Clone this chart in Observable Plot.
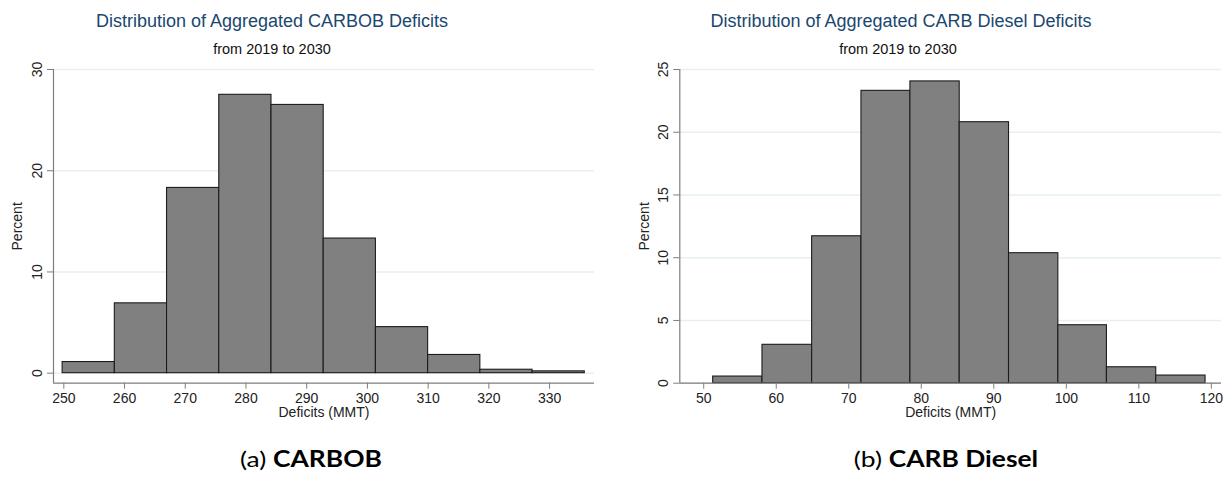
<!DOCTYPE html>
<html><head><meta charset="utf-8">
<script src="https://cdn.jsdelivr.net/npm/d3@7"></script>
<script src="https://cdn.jsdelivr.net/npm/@observablehq/plot@0.6"></script>
<style>
body{margin:0;background:#fff;}
#wrap{position:relative;width:1231px;height:477px;overflow:hidden;background:#fff;font-family:"Liberation Sans",Arial,sans-serif;}
.title{position:absolute;transform:translateX(-50%);white-space:nowrap;color:#1a476f;font-size:18px;line-height:18px;}
.sub{position:absolute;transform:translateX(-50%);white-space:nowrap;color:#111;font-size:14.5px;line-height:14.5px;}
.cap{position:absolute;transform:translateX(-50%) scaleX(1.2);white-space:nowrap;font-family:Lato,"Open Sans",sans-serif;font-size:22px;line-height:22px;color:#000;}
.chart{position:absolute;top:60px;}
</style></head><body><div id="wrap"></div>
<script>
// CARBOB histogram (panel a)
const carbobEdges = [249.8, 258.4, 267.0, 275.6, 284.2, 292.8, 301.4, 310.0, 318.6, 327.2, 335.8];
const carbobPercent = [1.1, 6.9, 18.3, 27.5, 26.5, 13.3, 4.55, 1.8, 0.34, 0.18];
const carbobXTicks = [250, 260, 270, 280, 290, 300, 310, 320, 330];
const carbobYTicks = [0, 10, 20, 30];
const carbobXDomain = [248.3, 337.4];
const carbobYDomain = [-0.99, 30];

// CARB Diesel histogram (panel b)
const dieselEdges = [51.3, 58.1, 64.95, 71.75, 78.5, 85.3, 92.1, 98.9, 105.6, 112.4, 119.2];
const dieselPercent = [0.53, 3.06, 11.71, 23.3, 24.05, 20.8, 10.36, 4.62, 1.27, 0.61];
const dieselXTicks = [50, 60, 70, 80, 90, 100, 110, 120];
const dieselYTicks = [0, 5, 10, 15, 20, 25];
const dieselXDomain = [46.7, 121.4];
const dieselYDomain = [0, 25];

const titles = ["Distribution of Aggregated CARBOB Deficits", "Distribution of Aggregated CARB Diesel Deficits"];
const subtitle = "from 2019 to 2030";
const xLabel = "Deficits (MMT)";
const yLabel = "Percent";

function hist({edges, pct, xDomain, yDomain, xTicks, yTicks, width, marginLeft, marginRight}) {
  const bins = pct.map((p, i) => ({x1: edges[i], x2: edges[i + 1], y: p}));
  return Plot.plot({
    width, height: 370, marginLeft, marginRight, marginTop: 9, marginBottom: 47.3,
    x: {domain: xDomain},
    y: {domain: yDomain},
    style: {background: "transparent", fontFamily: "'Liberation Sans', Arial, sans-serif", fontSize: "14px", color: "#222", overflow: "visible"},
    marks: [
      Plot.ruleY(yTicks, {stroke: "#e6eff2", strokeWidth: 1.5}),
      Plot.rect(bins, {x1: "x1", x2: "x2", y1: 0, y2: "y", fill: "#808080", stroke: "#1c1c1c", strokeWidth: 1.1}),
      Plot.ruleX([xDomain[0]], {stroke: "#7d7d7d", strokeWidth: 1.2}),
      Plot.ruleY([yDomain[0]], {stroke: "#7d7d7d", strokeWidth: 1.2}),
      Plot.axisX({ticks: xTicks, tickSize: 6, tickPadding: 4, fontSize: 14, label: xLabel, labelAnchor: "center", labelArrow: "none", labelOffset: 34, stroke: "#7d7d7d", fill: "#222"}),
      Plot.axisY({ticks: yTicks, tickSize: 6, tickRotate: -90, tickPadding: 6, fontSize: 14, label: yLabel, labelAnchor: "center", labelArrow: "none", labelOffset: 41, stroke: "#7d7d7d", fill: "#222"})
    ]
  });
}

const wrap = document.getElementById("wrap");
function addDiv(cls, html, left, top) {
  const d = document.createElement("div");
  d.className = cls; d.innerHTML = html;
  d.style.left = left + "px"; d.style.top = top + "px";
  wrap.appendChild(d);
  return d;
}

const left = hist({edges: carbobEdges, pct: carbobPercent, xDomain: carbobXDomain, yDomain: carbobYDomain, xTicks: carbobXTicks, yTicks: carbobYTicks, width: 615, marginLeft: 53, marginRight: 21});
left.classList.add("chart"); left.style.left = "0px";
wrap.appendChild(left);

const right = hist({edges: dieselEdges, pct: dieselPercent, xDomain: dieselXDomain, yDomain: dieselYDomain, xTicks: dieselXTicks, yTicks: dieselYTicks, width: 616, marginLeft: 64.3, marginRight: 10});
right.classList.add("chart"); right.style.left = "615px";
wrap.appendChild(right);

addDiv("title", titles[0], 272, 12);
addDiv("sub", subtitle, 272, 41.7);
addDiv("title", titles[1], 901, 12);
addDiv("sub", subtitle, 898, 41.7);
addDiv("cap", "(a) <b>CARBOB</b>", 311, 448);
addDiv("cap", "(b) <b>CARB Diesel</b>", 946, 448);
</script></body></html>
